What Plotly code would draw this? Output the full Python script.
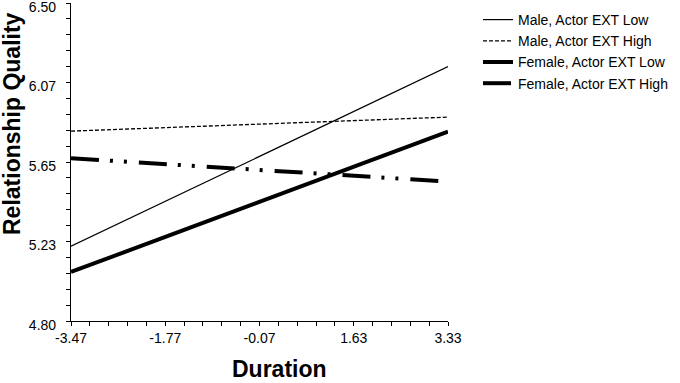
import plotly.graph_objects as go

# Data
duration = [-3.47, 3.33]
male_low = [5.20, 6.16]
male_high = [5.815, 5.89]
female_low = [5.062, 5.812]
female_high = [5.67, 5.545]

series_names = ["Male, Actor EXT Low", "Male, Actor EXT High",
                "Female, Actor EXT Low", "Female, Actor EXT High"]

x_ticks = [-3.47, -1.77, -0.07, 1.63, 3.33]
x_ticktext = ["-3.47", "-1.77", "-0.07", "1.63", "3.33"]
y_ticks = [4.80, 5.225, 5.65, 6.075, 6.50]
y_ticktext = ["4.80", "5.23", "5.65", "6.07", "6.50"]

FONT = "Arial, Liberation Sans, sans-serif"

fig = go.Figure()
fig.add_trace(go.Scatter(x=duration, y=male_low, mode="lines", name=series_names[0],
                         line=dict(color="black", width=1.2)))
fig.add_trace(go.Scatter(x=duration, y=male_high, mode="lines", name=series_names[1],
                         line=dict(color="black", width=1.3, dash="4px,2px")))
fig.add_trace(go.Scatter(x=duration, y=female_low, mode="lines", name=series_names[2],
                         line=dict(color="black", width=4)))
fig.add_trace(go.Scatter(x=duration, y=female_high, mode="lines", name=series_names[3],
                         line=dict(color="black", width=4,
                                   dash="28px,11px,3px,11px,3px,12px")))

W, H = 680, 383
ml, mr, mt, mb = 71, 232, 3, 62
pw = W - ml - mr
ph = H - mt - mb

def px_x(p):
    return (p - ml) / pw

def px_y(p):
    return (H - mb - p) / ph

fig.update_layout(
    template="none",
    width=W, height=H,
    margin=dict(l=ml, r=mr, t=mt, b=mb, pad=0, autoexpand=False),
    paper_bgcolor="white", plot_bgcolor="white",
    font=dict(family=FONT, color="black", size=14),
    showlegend=True,
    legend=dict(x=px_x(478), y=px_y(4), xanchor="left", yanchor="top",
                font=dict(size=14, family=FONT, color="black"),
                bgcolor="rgba(0,0,0,0)", borderwidth=0, tracegroupgap=0),
    xaxis=dict(range=[-3.47, 3.33], tickvals=x_ticks, ticktext=x_ticktext,
               automargin=False,
               showgrid=False, zeroline=False, showline=True, linecolor="black",
               linewidth=1.2, ticks="outside", ticklen=4, tickwidth=1.2,
               tickcolor="black", tickfont=dict(size=14, family=FONT),
               ticklabeloverflow="allow",
               minor=dict(ticks="outside", ticklen=4, tickwidth=1,
                          tickcolor="black", dtick=0.34, tick0=-3.47, showgrid=False)),
    yaxis=dict(range=[4.80, 6.50], tickvals=y_ticks, ticktext=y_ticktext,
               automargin=False,
               showgrid=False, zeroline=False, showline=True, linecolor="black",
               linewidth=1.2, ticks="outside", ticklen=4, tickwidth=1.2,
               tickcolor="black", tickfont=dict(size=14, family=FONT),
               ticklabelstandoff=7, ticklabelshift=4, ticklabeloverflow="allow",
               minor=dict(ticks="outside", ticklen=4, tickwidth=1,
                          tickcolor="black", dtick=0.085, tick0=4.80, showgrid=False)),
    annotations=[
        dict(text="<b>Duration</b>", xref="paper", yref="paper",
             x=px_x(279), y=px_y(369), xanchor="center", yanchor="middle",
             showarrow=False, font=dict(size=23, family=FONT, color="black")),
        dict(text="<b>Relationship Quality</b>", xref="paper", yref="paper",
             x=px_x(12), y=px_y(124), xanchor="center", yanchor="middle",
             textangle=-90, showarrow=False,
             font=dict(size=23, family=FONT, color="black")),
    ],
)

fig.write_html("out.html", config={"displayModeBar": False},
               post_script="document.body.style.margin='0px';")
